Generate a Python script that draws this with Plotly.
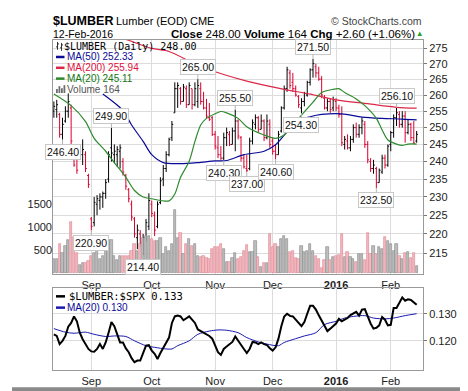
import math
import pandas as pd
import plotly.graph_objects as go

W, H = 468, 391
ML, MR, MT, MB = 45, 53, 32, 23
PW = W - ML - MR
PH = H - MT - MB


def px(x):
    return (x - ML) / PW


def py(y):
    return (H - MB - y) / PH


HOLIDAYS = ["2015-09-07", "2015-11-26", "2015-12-25", "2016-01-01", "2016-01-18"]
dates = [d.strftime("%Y-%m-%d") for d in pd.bdate_range("2015-08-13", "2016-02-12")
         if d.strftime("%Y-%m-%d") not in HOLIDAYS]
N = len(dates)

OPEN = [255.0, 255.5, 254.0, 248.0, 252.0, 255.0, 256.0, 243.0, 241.0, 242.0,
        242.0, 242.0, 236.0, 224.0, 223.0, 228.0, 229.0, 230.0, 231.0, 235.0,
        244.0, 242.0, 242.0, 243.0, 240.0, 236.0, 232.0, 228.0, 224.0, 219.0,
        220.0, 216.0, 219.0, 222.0, 228.0, 225.0, 222.0, 228.5, 235.0, 238.0,
        242.0, 247.0, 254.5, 262.0, 262.0, 258.0, 262.0, 257.0, 262.0, 257.0,
        258.0, 262.0, 258.0, 256.0, 253.0, 253.0, 248.0, 244.0, 242.0, 241.0,
        247.0, 248.0, 245.0, 249.0, 252.0, 247.0, 241.0, 238.0, 238.0, 246.0,
        251.0, 253.0, 249.5, 252.0, 247.0, 251.0, 246.0, 243.0, 242.0, 249.0,
        256.0, 262.0, 267.0, 264.0, 262.0, 259.5, 256.0, 258.0, 260.0, 264.0,
        268.0, 269.0, 267.0, 265.0, 259.0, 256.0, 258.0, 256.0, 258.0, 256.0,
        254.0, 245.0, 246.0, 244.0, 246.5, 250.0, 248.0, 250.0, 251.0, 245.0,
        240.0, 238.0, 238.0, 234.0, 237.0, 241.0, 239.0, 245.0, 248.5, 253.0,
        254.0, 251.0, 253.5, 248.5, 251.0, 247.0, 246.0]
HIGH = [258.0, 258.5, 254.5, 253.0, 256.5, 260.5, 257.0, 243.5, 242.0, 243.5,
        246.5, 243.0, 236.5, 224.5, 230.0, 230.5, 231.0, 231.5, 235.0, 243.0,
        249.9, 245.0, 244.5, 245.0, 241.0, 236.5, 232.5, 229.0, 224.5, 222.5,
        221.0, 220.0, 224.0, 231.0, 229.0, 226.0, 228.8, 235.5, 239.0, 243.0,
        247.0, 252.0, 264.0, 264.0, 262.5, 263.5, 263.0, 264.0, 262.0, 264.0,
        265.0, 264.0, 261.0, 258.8, 257.5, 253.5, 249.0, 247.5, 244.5, 248.5,
        250.0, 249.0, 250.0, 255.5, 252.5, 247.5, 242.0, 242.0, 247.0, 252.5,
        254.0, 253.5, 254.0, 252.5, 254.0, 252.5, 247.0, 245.0, 249.0, 256.5,
        263.0, 269.0, 268.0, 267.0, 263.0, 260.0, 259.0, 261.0, 264.5, 268.5,
        271.5, 270.0, 269.0, 266.0, 260.0, 259.0, 259.0, 259.5, 259.0, 257.0,
        256.5, 247.5, 248.0, 247.5, 251.0, 251.5, 251.0, 253.0, 252.0, 246.0,
        241.0, 240.5, 238.5, 238.0, 242.0, 242.0, 245.0, 249.0, 254.0, 256.1,
        255.0, 255.0, 255.0, 252.5, 251.5, 252.0, 249.0]
LOW = [253.0, 253.0, 247.0, 246.4, 251.5, 253.0, 245.0, 238.5, 236.5, 241.5,
       239.0, 237.0, 232.5, 220.9, 222.0, 225.0, 226.5, 227.0, 229.5, 234.0,
       240.0, 239.5, 238.5, 238.0, 236.0, 232.0, 228.5, 223.5, 219.0, 216.0,
       216.5, 214.4, 218.0, 221.0, 224.5, 219.4, 221.5, 228.0, 233.0, 237.0,
       241.5, 246.0, 254.5, 256.0, 257.0, 258.0, 256.0, 257.0, 255.5, 256.5,
       256.0, 257.0, 255.5, 252.8, 252.0, 247.5, 243.5, 241.0, 240.5, 240.3,
       244.5, 244.5, 245.0, 243.0, 246.5, 240.0, 238.0, 237.0, 237.5, 245.0,
       249.5, 248.5, 249.5, 246.0, 246.5, 244.0, 242.0, 240.6, 242.0, 248.5,
       255.5, 261.0, 262.0, 261.0, 259.5, 256.0, 254.3, 256.5, 259.5, 263.0,
       265.5, 265.5, 264.5, 259.0, 255.5, 255.0, 254.5, 255.0, 255.0, 253.0,
       244.5, 243.5, 243.5, 243.0, 245.5, 247.0, 247.0, 248.0, 244.0, 239.5,
       237.0, 236.5, 232.5, 234.0, 236.5, 238.0, 238.5, 243.0, 247.0, 250.5,
       250.0, 250.0, 245.5, 248.0, 246.0, 245.1, 245.5]
CLOSE = [256.5, 257.0, 248.0, 251.0, 255.0, 258.0, 246.0, 239.0, 237.5, 243.0,
         243.5, 238.0, 233.5, 222.0, 228.5, 229.5, 230.0, 231.0, 234.0, 242.0,
         242.5, 243.0, 243.5, 244.0, 237.0, 233.0, 229.5, 224.5, 220.0, 221.0,
         217.5, 219.0, 223.0, 229.0, 225.5, 221.0, 228.0, 234.5, 238.0, 242.0,
         246.5, 251.0, 262.0, 263.0, 258.0, 262.5, 257.0, 263.0, 257.0, 262.0,
         263.0, 258.0, 256.0, 253.5, 252.5, 248.0, 244.5, 242.0, 241.0, 247.0,
         248.5, 245.0, 249.0, 252.0, 247.5, 241.0, 238.5, 237.5, 246.0, 251.5,
         253.0, 249.5, 252.0, 247.0, 252.0, 245.0, 243.0, 242.0, 248.0, 256.0,
         262.0, 268.0, 263.0, 262.0, 260.0, 257.0, 258.0, 260.5, 264.0, 268.0,
         270.0, 267.0, 265.0, 260.0, 256.0, 258.0, 255.5, 258.5, 256.0, 254.0,
         245.5, 246.5, 244.0, 246.5, 250.0, 248.0, 250.0, 252.0, 245.0, 240.5,
         238.0, 239.0, 234.0, 237.5, 241.0, 239.0, 244.5, 248.5, 253.0, 254.5,
         251.0, 253.5, 248.5, 251.0, 247.0, 245.4, 248.0]
VOLUME = [308, 300, 628, 430, 600, 720, 1120, 790, 430, 180,
          230, 215, 270, 380, 430, 520, 300, 380, 490, 720,
          720, 380, 280, 380, 380, 380, 380, 490, 628, 490,
          630, 770, 800, 800, 740, 700, 700, 770, 420, 560,
          490, 640, 1370, 770, 880, 420, 630, 740, 600, 630,
          380, 360, 380, 330, 310, 530, 560, 560, 630, 530,
          240, 240, 320, 430, 310, 350, 490, 610, 450, 450,
          700, 360, 130, 215, 215, 840, 560, 630, 560, 750,
          800, 740, 450, 490, 330, 310, 600, 450, 490, 640,
          490, 380, 300, 110, 280, 560, 280, 360, 380, 400,
          860, 350, 450, 360, 310, 240, 420, 420, 280, 870,
          420, 600, 420, 560, 530, 790, 700, 630, 490, 630,
          380, 300, 430, 450, 330, 430, 164]

MA50_IDX = [17, 24, 27, 31, 34, 38, 44, 50, 56, 60, 66, 73, 77, 81, 84, 89, 93, 100, 107, 114, 121, 126]
MA50_VAL = [260.3, 255.2, 250.8, 245.9, 242.0, 239.7, 239.4, 239.7, 240.2, 240.3, 242.0, 243.0,
            244.9, 248.8, 251.8, 253.3, 254.0, 254.2, 253.2, 252.8, 252.6, 252.33]
MA200_IDX = [0, 15, 25, 34, 40, 50, 59, 67, 80, 89, 98, 109, 119, 126]
MA200_VAL = [286.0, 281.0, 278.0, 275.0, 274.0, 269.5, 266.5, 264.4, 261.8, 260.3, 258.5, 257.3, 256.2, 255.94]
MA20_IDX = [0, 6, 11, 14, 18, 21, 25, 28, 31, 34, 40, 42, 44, 47, 49, 51, 53, 56, 58, 60,
            64, 67, 73, 77, 80, 83, 86, 90, 93, 97, 99, 101, 105, 108, 112, 114, 116, 119, 121, 123, 126]
MA20_VAL = [260.3, 256.7, 251.8, 246.8, 243.0, 239.7, 235.5, 231.8, 230.0, 229.5,
            228.9, 230.8, 235.5, 240.1, 245.9, 250.8, 252.8, 254.2, 254.9, 254.5,
            252.8, 250.3, 247.8, 246.8, 247.8, 250.8, 253.8, 257.8, 260.8, 261.8,
            262.0, 260.8, 258.8, 256.7, 252.8, 249.3, 246.3, 245.1, 244.7, 245.1, 245.11]

RATIO = [.1224, .1218, .1188, .1200, .1218, .1252, .1266, .1290, .1272, .1230,
         .1206, .1188, .1170, .1161, .1160, .1170, .1188, .1170, .1194, .1230,
         .1269, .1254, .1220, .1194, .1194, .1172, .1158, .1136, .1121, .1127,
         .1127, .1152, .1182, .1184, .1164, .1152, .1133, .1155, .1173, .1191,
         .1212, .1266, .1290, .1293, .1290, .1276, .1283, .1290, .1278, .1266,
         .1242, .1236, .1233, .1224, .1218, .1208, .1179, .1158, .1148, .1170,
         .1179, .1187, .1196, .1216, .1200, .1182, .1170, .1155, .1170, .1196,
         .1194, .1188, .1194, .1188, .1184, .1173, .1164, .1176, .1208, .1254,
         .1290, .1300, .1292, .1290, .1276, .1266, .1254, .1269, .1300, .1329,
         .1329, .1315, .1294, .1276, .1254, .1236, .1245, .1254, .1264, .1281,
         .1272, .1278, .1284, .1295, .1300, .1307, .1293, .1315, .1317, .1290,
         .1264, .1245, .1248, .1257, .1288, .1278, .1257, .1259, .1321, .1321,
         .1339, .1360, .1348, .1353, .1351, .1341, .1333]
RATIO_MA_IDX = [0, 4, 7, 11, 14, 18, 21, 25, 28, 32, 35, 39, 41, 43, 47, 50, 54, 57, 60, 64,
                67, 71, 74, 78, 80, 84, 87, 91, 94, 98, 101, 104, 108, 111, 115, 118, 122, 126]
RATIO_MA_VAL = [.1245, .1232, .1228, .1232, .1224, .1216, .1218, .1216, .1200, .1182,
                .1176, .1170, .1170, .1182, .1200, .1224, .1236, .1240, .1239, .1230,
                .1212, .1196, .1188, .1182, .1194, .1208, .1218, .1230, .1260, .1272,
                .1284, .1290, .1293, .1284, .1281, .1284, .1293, .1300]

PRICE_LABELS = [(3, "low"), (13, "low"), (20, "high"), (31, "low"), (50, "high"), (59, "low"),
                (63, "high"), (67, "low"), (77, "low"), (86, "low"), (90, "high"),
                (112, "low"), (119, "high")]

MONTH_TICKS = ["2015-09-01", "2015-10-01", "2015-11-02", "2015-12-01", "2016-01-04", "2016-02-01"]
MONTH_TEXT = ["Sep", "Oct", "Nov", "Dec", "<b>2016</b>", "Feb"]
PRICE_TICKS = [215, 220, 225, 230, 235, 240, 245, 250, 255, 260, 265, 270, 275]
VOL_TICKS = [500, 1000, 1500]
RATIO_TICKS = [0.120, 0.130]

BLACK = "#000000"
RED = "#D8002F"
BLUE = "#0A0A96"
MARED = "#DC2848"
GREEN = "#2E8B2E"
GRID = "#DCDCDC"
FRAME = "#9A9A9A"
FONT = "Arial"

up = [i for i in range(N) if i == 0 or CLOSE[i] >= CLOSE[i - 1]]
upset = set(up)
dn = [i for i in range(N) if i not in upset]

fig = go.Figure()

fig.add_trace(go.Bar(
    x=dates, y=VOLUME, xaxis="x", yaxis="y2", width=0.78,
    marker=dict(color=["#BDBDBD" if i in upset else "#F3B9BF" for i in range(N)],
                line=dict(color=["#8E8E8E" if i in upset else "#DE8D98" for i in range(N)], width=0.7)),
    hoverinfo="skip", showlegend=False))

for idx, col in ((up, BLACK), (dn, RED)):
    fig.add_trace(go.Ohlc(
        x=[dates[i] for i in idx], open=[OPEN[i] for i in idx], high=[HIGH[i] for i in idx],
        low=[LOW[i] for i in idx], close=[CLOSE[i] for i in idx],
        increasing=dict(line=dict(color=col, width=1)), decreasing=dict(line=dict(color=col, width=1)),
        tickwidth=0.45, xaxis="x", yaxis="y", hoverinfo="skip", showlegend=False))

for idxs, vals, col in ((MA200_IDX, MA200_VAL, MARED), (MA50_IDX, MA50_VAL, BLUE), (MA20_IDX, MA20_VAL, GREEN)):
    fig.add_trace(go.Scatter(
        x=[dates[i] for i in idxs], y=vals, mode="lines", xaxis="x", yaxis="y",
        line=dict(color=col, width=1.2, shape="spline", smoothing=0.8),
        hoverinfo="skip", showlegend=False))

fig.add_trace(go.Scatter(
    x=[dates[i] for i in RATIO_MA_IDX], y=RATIO_MA_VAL, mode="lines", xaxis="x2", yaxis="y3",
    line=dict(color="#1A1AB0", width=1, shape="spline", smoothing=0.8), hoverinfo="skip", showlegend=False))
fig.add_trace(go.Scatter(
    x=dates, y=RATIO, mode="lines", xaxis="x2", yaxis="y3",
    line=dict(color=BLACK, width=2), hoverinfo="skip", showlegend=False))

cat = dict(type="category", categoryorder="array", categoryarray=dates, range=[-0.3, 128.2],
           tickmode="array", tickvals=MONTH_TICKS, ticktext=MONTH_TEXT,
           showgrid=True, gridcolor=GRID, gridwidth=1, showline=True, mirror=True,
           linecolor=FRAME, linewidth=1, ticks="", zeroline=False, fixedrange=True,
           tickfont=dict(family=FONT, size=11, color="#222222"), ticklabelstandoff=1)

fig.update_layout(
    width=W, height=H, margin=dict(l=ML, r=MR, t=MT, b=MB),
    paper_bgcolor="white", plot_bgcolor="white", showlegend=False, bargap=0,
    xaxis=dict(**cat, anchor="y", rangeslider=dict(visible=False)),
    xaxis2=dict(**cat, anchor="y3"),
    yaxis=dict(type="log", domain=[98 / PH, 1], range=[math.log10(209.7), math.log10(277.8)],
               side="right", tickmode="array", tickvals=PRICE_TICKS, ticktext=[str(v) for v in PRICE_TICKS],
               showgrid=True, gridcolor=GRID, showline=True, mirror=True, linecolor=FRAME,
               ticks="outside", ticklen=3, tickcolor="#777777", zeroline=False, fixedrange=True,
               tickfont=dict(family=FONT, size=11, color="#222222"), anchor="x"),
    yaxis2=dict(overlaying="y", side="left", range=[-10.6, 5053], tickmode="array", tickvals=VOL_TICKS,
                showgrid=False, showline=False, zeroline=False, ticks="", fixedrange=True,
                tickfont=dict(family=FONT, size=11, color="#222222"), anchor="x"),
    yaxis3=dict(domain=[0, 83 / PH], range=[0.10924, 0.13931], side="right", tickmode="array",
                tickvals=RATIO_TICKS, ticktext=["%.3f" % v for v in RATIO_TICKS],
                showgrid=True, gridcolor=GRID, showline=True, mirror=True, linecolor=FRAME,
                ticks="outside", ticklen=3, tickcolor="#777777", zeroline=False, fixedrange=True,
                tickfont=dict(family=FONT, size=11, color="#222222"), anchor="x2"),
)

# price pivot labels
for i, kind in PRICE_LABELS:
    val = HIGH[i] if kind == "high" else LOW[i]
    fig.add_annotation(
        x=dates[i], y=math.log10(val), xref="x", yref="y", text="%.2f" % val,
        showarrow=True, arrowhead=0, arrowwidth=1, arrowcolor="#B5B5B5",
        ax=0, ay=-12 if kind == "high" else 12,
        bgcolor="white", bordercolor="#C8C8C8", borderwidth=1, borderpad=1,
        font=dict(family=FONT, size=10.5, color="#111111"))


def text(x, y, s, size, color="#000000", anchor="left", family=FONT):
    fig.add_annotation(x=px(x), y=py(y), xref="paper", yref="paper", text=s, showarrow=False,
                       xanchor=anchor, yanchor="middle", borderpad=0,
                       font=dict(family=family, size=size, color=color))


# header
text(44, 12.5, "<b>$LUMBER</b>", 12.5)
text(107, 12.5, "Lumber (EOD)", 11)
text(181, 12.5, "CME", 11)
text(415, 12.5, "© StockCharts.com", 10.5, "#444444", anchor="right")
text(44, 25.5, "12-Feb-2016", 10.5)
text(162, 25.5, "<b>Close</b> 248.00 <b>Volume</b> 164 <b>Chg</b> +2.60 (+1.06%)", 11.5)
text(411.5, 25.0, "▲", 7.5, "#22A022", anchor="center")

# in-panel legend
text(55, 38.3, "$LUMBER (Daily) 248.00", 10, "#000000", family="DejaVu Sans Mono")
text(58, 49.3, "MA(50) 252.33", 10, BLUE)
text(58, 60.3, "MA(200) 255.94", 10, "#E0103A")
text(58, 71.3, "MA(20) 245.11", 10, "#117711")
text(58, 82.3, "Volume 164", 10, "#555555")
text(60, 293.0, "$LUMBER:$SPX 0.133", 10.5, "#000000", family="DejaVu Sans Mono")
text(58, 304.5, "MA(20) 0.130", 10, BLUE)

shapes = []


def hline(x0, x1, y, col, w):
    shapes.append(dict(type="line", xref="paper", yref="paper", x0=px(x0), x1=px(x1), y0=py(y), y1=py(y),
                       line=dict(color=col, width=w)))


def rect(x0, x1, y0, y1, col):
    shapes.append(dict(type="rect", xref="paper", yref="paper", x0=px(x0), x1=px(x1), y0=py(y1), y1=py(y0),
                       fillcolor=col, line=dict(width=0)))


hline(48, 56.5, 49.3, BLUE, 2.5)
hline(48, 56.5, 60.3, MARED, 2.5)
hline(48, 56.5, 71.3, GREEN, 2.5)
hline(48, 57, 293.0, "#000000", 2.5)
hline(48, 57, 304.5, "#1A1AB0", 2.5)
# volume icon
for x0, h in ((48, 4), (50.5, 7), (53, 5), (55.5, 8)):
    rect(x0, x0 + 1.8, 86 - h, 86, "#6E6E6E")
# ohlc icon
for xc, y0, y1 in ((49.5, 34, 42), (53.5, 35, 43)):
    shapes.append(dict(type="line", xref="paper", yref="paper", x0=px(xc), x1=px(xc), y0=py(y0), y1=py(y1),
                       line=dict(color="#333333", width=1)))
    hline(xc - 1.5, xc, y0 + 5, "#333333", 1)
    hline(xc, xc + 1.5, y0 + 2, "#333333", 1)
# frame drop shadow
rect(462.5, 466.5, 3, 389, "#8A8A8A")
rect(4, 466.5, 385.5, 389.5, "#8A8A8A")
fig.update_layout(shapes=shapes)

fig.write_html("out.html", config={"displayModeBar": False})
